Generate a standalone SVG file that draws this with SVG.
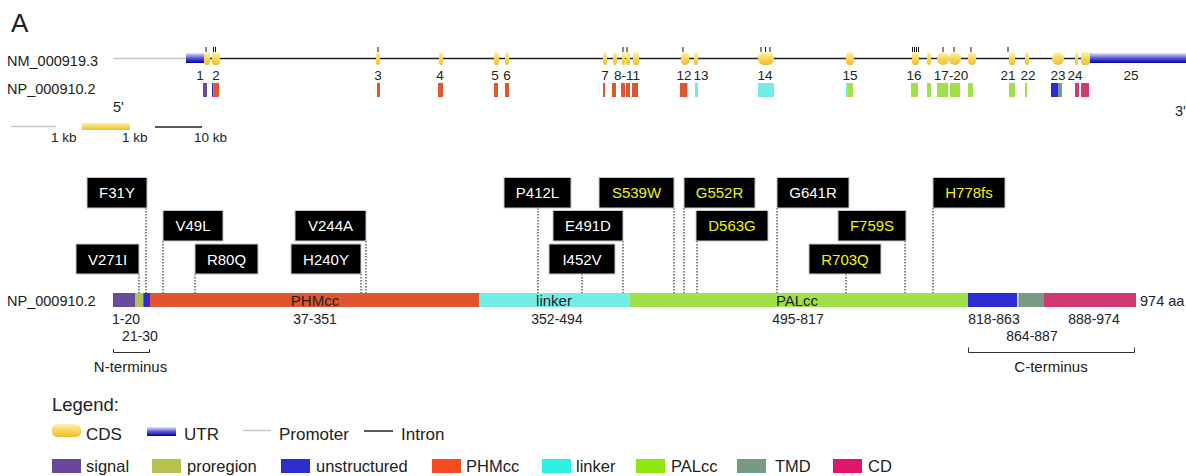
<svg xmlns="http://www.w3.org/2000/svg" width="1186" height="476" viewBox="0 0 1186 476">
<defs>
<linearGradient id="cds" x1="0" y1="0" x2="0" y2="1">
<stop offset="0" stop-color="#fdf3b8"/>
<stop offset="0.45" stop-color="#f8d960"/>
<stop offset="1" stop-color="#eebf30"/>
</linearGradient>
<linearGradient id="utr" x1="0" y1="0" x2="0" y2="1">
<stop offset="0" stop-color="#e6e6fa"/>
<stop offset="0.5" stop-color="#5a5ad8"/>
<stop offset="1" stop-color="#0000a8"/>
</linearGradient>
<style>
text{font-family:"Liberation Sans",Arial,sans-serif;fill:#222}
.lab{font-size:14.5px}
.ex{fill:url(#cds)}
.utr{fill:url(#utr)}
.num{font-size:13.5px;text-anchor:middle}
.tick{stroke:#111;stroke-width:1}
.sig{fill:#6a4a9a}.pro{fill:#b3c05a}.uns{fill:#2c2cd0}.phm{fill:#e05530}.lnk{fill:#74ece6}.pal{fill:#a0e048}.tmd{fill:#7a9a86}.cd{fill:#d03a70}
.mbox{fill:#000;stroke:#c8c8c8;stroke-width:1}
.mt{font-size:15px;text-anchor:middle;fill:#fff}
.my{fill:#f2f200}
.dot{stroke:#111;stroke-width:1;stroke-dasharray:1.5 1.5}
.rng{font-size:14px;text-anchor:middle}
.dom{font-size:15px;text-anchor:middle;fill:#222}
.lg{font-size:17px}
.lg2{font-size:16.5px}
</style>
</defs>
<rect width="1186" height="476" fill="#fff"/>
<text x="11" y="32" font-size="26">A</text>

<g id="gene-track">
<text class="lab" x="7" y="66">NM_000919.3</text>
<text class="lab" x="7" y="94">NP_000910.2</text>
<line x1="113" y1="58.5" x2="186" y2="58.5" stroke="#c8c8c8" stroke-width="1.5"/>
<line x1="205" y1="58.5" x2="1090" y2="58.5" stroke="#222" stroke-width="1.5"/>
<rect class="utr" x="186" y="53" width="19" height="10"/>
<rect class="utr" x="1089" y="53" width="97" height="10"/>
<g id="exons">
<rect class="ex" x="204" y="52" width="6" height="13" rx="2.5"/>
<rect class="ex" x="212" y="52" width="8" height="13" rx="3"/>
<rect class="ex" x="376" y="52" width="4" height="13" rx="2"/>
<rect class="ex" x="439" y="52" width="4" height="13" rx="2"/>
<rect class="ex" x="494" y="52" width="5" height="13" rx="2"/>
<rect class="ex" x="505" y="52" width="4" height="13" rx="2"/>
<rect class="ex" x="603" y="52" width="4" height="13" rx="2"/>
<rect class="ex" x="613" y="52" width="4" height="13" rx="2"/>
<rect class="ex" x="622" y="52" width="3" height="13" rx="1.5"/>
<rect class="ex" x="626" y="52" width="4" height="13" rx="2"/>
<rect class="ex" x="633" y="52" width="6" height="13" rx="2.5"/>
<rect class="ex" x="681" y="52" width="8" height="13" rx="4"/>
<rect class="ex" x="694" y="52" width="4" height="13" rx="2"/>
<rect class="ex" x="758" y="52" width="16" height="13" rx="6"/>
<rect class="ex" x="846" y="52" width="8" height="13" rx="4"/>
<rect class="ex" x="912" y="52" width="7" height="13" rx="3"/>
<rect class="ex" x="927" y="52" width="4" height="13" rx="2"/>
<rect class="ex" x="937" y="52" width="12" height="13" rx="6"/>
<rect class="ex" x="949" y="52" width="12" height="13" rx="6"/>
<rect class="ex" x="968" y="52" width="8" height="13" rx="4"/>
<rect class="ex" x="1009" y="52" width="6" height="13" rx="2.5"/>
<rect class="ex" x="1025" y="52" width="4" height="13" rx="2"/>
<rect class="ex" x="1052" y="52" width="12" height="13" rx="6"/>
<rect class="ex" x="1075" y="52" width="3" height="13" rx="1.5"/>
<rect class="ex" x="1081" y="52" width="9" height="13" rx="3"/>
</g>
<g id="ticks" class="tick">
<line x1="206" y1="47" x2="206" y2="52"/>
<line x1="213.5" y1="47" x2="213.5" y2="52"/>
<line x1="215.5" y1="47" x2="215.5" y2="52"/>
<line x1="378" y1="47" x2="378" y2="52"/>
<line x1="623" y1="47" x2="623" y2="52"/>
<line x1="627" y1="47" x2="627" y2="52"/>
<line x1="683" y1="47" x2="683" y2="52"/>
<line x1="761" y1="47" x2="761" y2="52"/>
<line x1="765.5" y1="47" x2="765.5" y2="52"/>
<line x1="770" y1="47" x2="770" y2="52"/>
<line x1="912.5" y1="47" x2="912.5" y2="52"/>
<line x1="914.5" y1="47" x2="914.5" y2="52"/>
<line x1="916.5" y1="47" x2="916.5" y2="52"/>
<line x1="918.5" y1="47" x2="918.5" y2="52"/>
<line x1="943" y1="47" x2="943" y2="52"/>
<line x1="954" y1="47" x2="954" y2="52"/>
<line x1="971" y1="47" x2="971" y2="52"/>
<line x1="1008" y1="47" x2="1008" y2="52"/>
</g>
<g id="exon-labels">
<text class="num" x="200" y="80">1</text>
<text class="num" x="216" y="80">2</text>
<text class="num" x="378" y="80">3</text>
<text class="num" x="440" y="80">4</text>
<text class="num" x="495" y="80">5</text>
<text class="num" x="507" y="80">6</text>
<text class="num" x="605" y="80">7</text>
<text class="num" x="627" y="80">8-11</text>
<text class="num" x="684" y="80">12</text>
<text class="num" x="701" y="80">13</text>
<text class="num" x="765" y="80">14</text>
<text class="num" x="850" y="80">15</text>
<text class="num" x="914" y="80">16</text>
<text class="num" x="951" y="80">17-20</text>
<text class="num" x="1008" y="80">21</text>
<text class="num" x="1028" y="80">22</text>
<text class="num" x="1058" y="80">23</text>
<text class="num" x="1075" y="80">24</text>
<text class="num" x="1131" y="80">25</text>
</g>
<g id="exon-domains">
<rect class="sig" x="203" y="83" width="4" height="14"/>
<rect class="uns" x="212" y="83" width="1.2" height="14"/>
<rect class="phm" x="213.2" y="83" width="5.8" height="14"/>
<rect class="phm" x="377" y="83" width="3" height="14"/>
<rect class="phm" x="438" y="83" width="5" height="14"/>
<rect class="phm" x="494" y="83" width="4" height="14"/>
<rect class="phm" x="505" y="83" width="4" height="14"/>
<rect class="phm" x="603" y="83" width="2" height="14"/>
<rect class="phm" x="612" y="83" width="4" height="14"/>
<rect class="phm" x="621" y="83" width="4" height="14"/>
<rect class="phm" x="626" y="83" width="4" height="14"/>
<rect class="phm" x="632" y="83" width="6" height="14"/>
<rect class="phm" x="680" y="83" width="7" height="14"/>
<rect class="lnk" x="687" y="83" width="1.3" height="14"/>
<rect class="lnk" x="695" y="83" width="3" height="14"/>
<rect class="lnk" x="758" y="83" width="16" height="14"/>
<rect class="lnk" x="846" y="83" width="2" height="14"/>
<rect class="pal" x="848" y="83" width="5" height="14"/>
<rect class="pal" x="911" y="83" width="7" height="14"/>
<rect class="pal" x="927" y="83" width="4" height="14"/>
<rect class="pal" x="937" y="83" width="11" height="14"/>
<rect class="pal" x="950" y="83" width="10" height="14"/>
<rect class="pal" x="968" y="83" width="5" height="14"/>
<rect class="pal" x="1009" y="83" width="6" height="14"/>
<rect class="pal" x="1025" y="83" width="2" height="14"/>
<rect class="uns" x="1051" y="83" width="7" height="14"/>
<rect class="tmd" x="1058" y="83" width="4" height="14"/>
<rect class="cd" x="1075" y="83" width="4" height="14"/>
<rect class="cd" x="1081" y="83" width="8" height="14"/>
</g>
<text class="lab" x="113" y="112">5'</text>
<text class="lab" x="1175" y="116">3'</text>
</g>

<g id="scale-bar">
<line x1="11" y1="126.5" x2="56" y2="126.5" stroke="#c8c8c8" stroke-width="1.5"/>
<rect class="ex" x="82" y="123" width="48" height="7" rx="1"/>
<line x1="155" y1="127" x2="202" y2="127" stroke="#222" stroke-width="1.5"/>
<text x="51" y="142" font-size="13.5">1 kb</text>
<text x="122" y="142" font-size="13.5">1 kb</text>
<text x="194" y="142" font-size="13.5">10 kb</text>
</g>

<g id="connectors">
<line class="dot" x1="146" y1="208" x2="146" y2="293"/>
<line class="dot" x1="163" y1="241" x2="163" y2="293"/>
<line class="dot" x1="139" y1="274" x2="139" y2="293"/>
<line class="dot" x1="195" y1="274" x2="195" y2="293"/>
<line class="dot" x1="366" y1="241" x2="366" y2="293"/>
<line class="dot" x1="361" y1="274" x2="361" y2="293"/>
<line class="dot" x1="538" y1="208" x2="538" y2="293"/>
<line class="dot" x1="674" y1="208" x2="674" y2="293"/>
<line class="dot" x1="684" y1="208" x2="684" y2="293"/>
<line class="dot" x1="623" y1="241" x2="623" y2="293"/>
<line class="dot" x1="697" y1="241" x2="697" y2="293"/>
<line class="dot" x1="582" y1="274" x2="582" y2="293"/>
<line class="dot" x1="777" y1="208" x2="777" y2="293"/>
<line class="dot" x1="905" y1="241" x2="905" y2="293"/>
<line class="dot" x1="846" y1="274" x2="846" y2="293"/>
<line class="dot" x1="933" y1="208" x2="933" y2="293"/>
</g>

<g id="mutations">
<g id="m-F31Y"><rect class="mbox" x="87" y="177.5" width="60" height="30.5"/><text class="mt" x="117" y="198">F31Y</text></g>
<g id="m-V49L"><rect class="mbox" x="163" y="210.5" width="60" height="30.5"/><text class="mt" x="193" y="231">V49L</text></g>
<g id="m-V271I"><rect class="mbox" x="76" y="244" width="63" height="30"/><text class="mt" x="107.5" y="264.5">V271I</text></g>
<g id="m-R80Q"><rect class="mbox" x="195" y="244" width="63" height="30"/><text class="mt" x="226.5" y="264.5">R80Q</text></g>
<g id="m-V244A"><rect class="mbox" x="295" y="210.5" width="71" height="30.5"/><text class="mt" x="330.5" y="231">V244A</text></g>
<g id="m-H240Y"><rect class="mbox" x="291" y="244" width="70" height="30"/><text class="mt" x="326" y="264.5">H240Y</text></g>
<g id="m-P412L"><rect class="mbox" x="504" y="177.5" width="67" height="30.5"/><text class="mt" x="537.5" y="198">P412L</text></g>
<g id="m-S539W"><rect class="mbox" x="599" y="177.5" width="75" height="30.5"/><text class="mt my" x="636.5" y="198">S539W</text></g>
<g id="m-G552R"><rect class="mbox" x="684" y="177.5" width="71" height="30.5"/><text class="mt my" x="719.5" y="198">G552R</text></g>
<g id="m-E491D"><rect class="mbox" x="553" y="210.5" width="70" height="30.5"/><text class="mt" x="588" y="231">E491D</text></g>
<g id="m-D563G"><rect class="mbox" x="696" y="210.5" width="72" height="30.5"/><text class="mt my" x="732" y="231">D563G</text></g>
<g id="m-I452V"><rect class="mbox" x="549" y="244" width="66" height="30"/><text class="mt" x="582" y="264.5">I452V</text></g>
<g id="m-G641R"><rect class="mbox" x="777" y="177.5" width="72" height="30.5"/><text class="mt" x="813" y="198">G641R</text></g>
<g id="m-F759S"><rect class="mbox" x="838" y="210.5" width="68" height="30.5"/><text class="mt my" x="872" y="231">F759S</text></g>
<g id="m-R703Q"><rect class="mbox" x="809" y="244" width="72" height="30"/><text class="mt my" x="845" y="264.5">R703Q</text></g>
<g id="m-H778fs"><rect class="mbox" x="933" y="177.5" width="72" height="30.5"/><text class="mt my" x="969" y="198">H778fs</text></g>
</g>

<g id="protein">
<text class="lab" x="7" y="306">NP_000910.2</text>
<rect class="sig" x="113" y="293" width="22" height="14"/>
<rect class="pro" x="135" y="293" width="8.3" height="14"/>
<rect class="uns" x="143.3" y="293" width="6.7" height="14"/>
<rect class="phm" x="150" y="293" width="329.5" height="14"/>
<rect class="lnk" x="479.5" y="293" width="150" height="14"/>
<rect class="pal" x="629.5" y="293" width="338.5" height="14"/>
<rect class="uns" x="968" y="293" width="49" height="14"/>
<rect x="1017" y="293" width="1.5" height="14" fill="#a8e8ee"/>
<rect class="tmd" x="1018.5" y="293" width="25.5" height="14"/>
<rect class="cd" x="1044" y="293" width="92" height="14"/>
<text class="dom" x="315" y="306">PHMcc</text>
<text class="dom" x="554" y="306">linker</text>
<text class="dom" x="797" y="306">PALcc</text>
<text class="lab" x="1140" y="306">974 aa</text>
<text class="rng" x="126" y="324">1-20</text>
<text class="rng" x="140" y="341">21-30</text>
<text class="rng" x="315" y="324">37-351</text>
<text class="rng" x="557" y="324">352-494</text>
<text class="rng" x="798" y="324">495-817</text>
<text class="rng" x="994" y="324">818-863</text>
<text class="rng" x="1032" y="341">864-887</text>
<text class="rng" x="1094" y="324">888-974</text>
<path d="M113.5 349V352.5H149.5V349" fill="none" stroke="#333" stroke-width="1"/>
<text class="dom" x="130.5" y="372">N-terminus</text>
<path d="M968.5 347.5V352.5H1134.5V347.5" fill="none" stroke="#333" stroke-width="1"/>
<text class="dom" x="1051" y="372">C-terminus</text>
</g>

<g id="legend">
<text x="52" y="411" font-size="18.5">Legend:</text>
<rect class="ex" x="52" y="424" width="29" height="13" rx="5"/>
<text class="lg" x="86" y="440">CDS</text>
<rect class="utr" x="147" y="427" width="29" height="9"/>
<text class="lg" x="184" y="440">UTR</text>
<line x1="243" y1="430.5" x2="271" y2="430.5" stroke="#c8c8c8" stroke-width="1.5"/>
<text class="lg" x="279" y="440">Promoter</text>
<line x1="364" y1="431" x2="393" y2="431" stroke="#222" stroke-width="1.5"/>
<text class="lg" x="401" y="440">Intron</text>
<rect x="52" y="459" width="29" height="14" fill="#6b479b"/>
<text class="lg2" x="86" y="471.5">signal</text>
<rect x="152" y="459" width="29" height="14" fill="#b7c150"/>
<text class="lg2" x="187" y="471.5">proregion</text>
<rect x="281" y="459" width="29" height="14" fill="#2d2dcd"/>
<text class="lg2" x="316" y="471.5">unstructured</text>
<rect x="432" y="459" width="29" height="14" fill="#f34a22"/>
<text class="lg2" x="466" y="471.5">PHMcc</text>
<rect x="542" y="459" width="29" height="14" fill="#2ef1e6"/>
<text class="lg2" x="576" y="471.5">linker</text>
<rect x="636" y="459" width="29" height="14" fill="#8ee60e"/>
<text class="lg2" x="671" y="471.5">PALcc</text>
<rect x="737" y="459" width="29" height="14" fill="#779a84"/>
<text class="lg2" x="775" y="471.5">TMD</text>
<rect x="833" y="459" width="29" height="14" fill="#e1156e"/>
<text class="lg2" x="868" y="471.5">CD</text>
</g>
</svg>
